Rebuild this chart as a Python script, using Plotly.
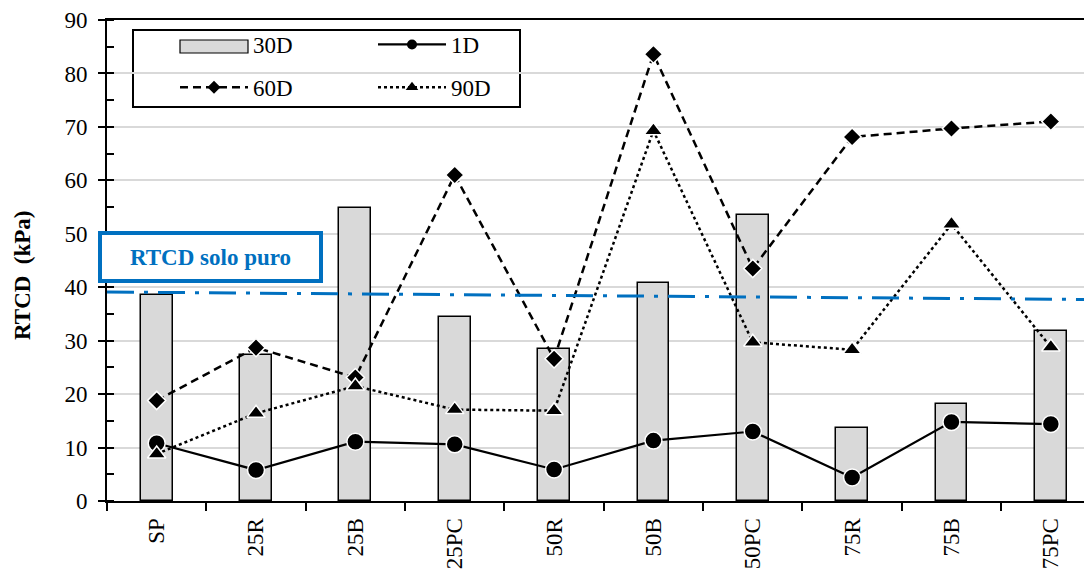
import plotly.graph_objects as go

cats = ["SP", "25R", "25B", "25PC", "50R", "50B", "50PC", "75R", "75B", "75PC"]
d30 = [38.5, 27.4, 54.9, 34.5, 28.5, 40.7, 53.5, 13.6, 18.2, 31.8]
d1 = [10.8, 5.8, 11.1, 10.6, 5.9, 11.3, 13.0, 4.4, 14.8, 14.4]
d60 = [18.8, 28.7, 23.1, 61.0, 26.6, 83.6, 43.5, 68.1, 69.7, 71.0]
d90 = [8.8, 16.4, 21.5, 17.1, 16.9, 69.3, 29.7, 28.3, 51.8, 28.8]
rtcd_line = [39.1, 37.7]   # reference line (solo puro), left -> right
y_ticks = [0, 10, 20, 30, 40, 50, 60, 70, 80, 90]

FONT = "Liberation Serif, Times New Roman, serif"
BLUE = "#0070C0"
OFF = 8                     # browser body margin
W, H = 1092 - OFF, 570 - OFF
L, T = 107 - OFF, 20 - OFF
B = H - (501 - OFF)
R = 0
pw = W - L - R
ph = H - T - B

def px(x):                  # page pixel -> paper
    return (x - OFF - L) / pw

def py(y):
    return (H - B - (y - OFF)) / ph

styles = {
    "1D": dict(line=dict(color="black", width=2.2),
               msym="circle", msize=17, lsize=10),
    "60D": dict(line=dict(color="black", width=2.5, dash="8px,5px"),
                msym="diamond", msize=14, lsize=10),
    "90D": dict(line=dict(color="black", width=2.5, dash="dot"),
                msym="triangle-up", msize=16, lsize=11),
}

fig = go.Figure()

fig.add_trace(go.Bar(
    x=cats, y=d30, name="30D", width=0.32,
    marker=dict(color="#d9d9d9", line=dict(color="black", width=1.5)),
    showlegend=False,
))
for name, vals in [("1D", d1), ("60D", d60), ("90D", d90)]:
    s = styles[name]
    fig.add_trace(go.Scatter(
        x=cats, y=vals, name=name, mode="lines+markers", line=s["line"],
        marker=dict(symbol=s["msym"], size=s["msize"], color="black",
                    line=dict(color="white", width=1.5)),
        showlegend=False,
    ))

# legend-only entries (smaller symbols as in the reference)
legend_items = [("30D", "legend", "g1"), ("60D", "legend", "g2"),
                ("1D", "legend2", "g1"), ("90D", "legend2", "g2")]
for name, lg, grp in legend_items:
    if name == "30D":
        fig.add_trace(go.Scatter(x=[None], y=[None], name=name, mode="lines",
                                 line=dict(color="rgba(0,0,0,0)", width=1),
                                 legend=lg, legendgroup=grp))
    else:
        s = styles[name]
        fig.add_trace(go.Scatter(x=[None], y=[None], name=name, mode="lines+markers",
                                 line=s["line"],
                                 marker=dict(symbol=s["msym"], size=s["lsize"], color="black"),
                                 legend=lg, legendgroup=grp))

# reference line (dash-dot blue) spanning the full plot width
fig.add_shape(type="line", xref="paper", yref="y", x0=0, x1=1,
              y0=rtcd_line[0], y1=rtcd_line[1],
              line=dict(color=BLUE, width=3, dash="27px,10px,4px,10px"))

# legend border
fig.add_shape(type="rect", xref="paper", yref="paper",
              x0=px(133), x1=px(520), y0=py(107), y1=py(30),
              line=dict(color="black", width=2), fillcolor="white", layer="below")
# bar legend symbol
fig.add_shape(type="rect", xref="paper", yref="paper",
              x0=px(180), x1=px(248), y0=py(53), y1=py(40),
              line=dict(color="black", width=1.2), fillcolor="#d9d9d9")

fig.add_annotation(
    text="<b>RTCD solo puro</b>", xref="paper", yref="paper",
    x=px(210.5), y=py(257), xanchor="center", yanchor="middle",
    showarrow=False, font=dict(family=FONT, size=23, color=BLUE),
    bgcolor="white", bordercolor=BLUE, borderwidth=4, borderpad=0,
    width=217, height=44,
)
fig.add_annotation(
    text="<b>RTCD  (kPa)</b>", xref="paper", yref="paper",
    x=px(22), y=py(275), xanchor="center", yanchor="middle",
    textangle=-90, showarrow=False, font=dict(family=FONT, size=23, color="black"),
)

legend_common = dict(
    orientation="v", bgcolor="rgba(0,0,0,0)", borderwidth=0,
    font=dict(family=FONT, size=23, color="black"),
    itemwidth=68, tracegroupgap=10, xanchor="left", yanchor="top",
    traceorder="grouped",
)

fig.update_layout(
    width=W, height=H,
    margin=dict(l=L, r=R, t=T, b=B),
    plot_bgcolor="white", paper_bgcolor="white",
    font=dict(family=FONT, size=23, color="black"),
    bargap=0,
    legend=dict(x=px(175), y=py(23), **legend_common),
    legend2=dict(x=px(373), y=py(23), **legend_common),
    xaxis=dict(
        type="category", range=[-0.5, -0.5 + (1092 - 107) / 99.35],
        showline=True, linecolor="black", linewidth=2, mirror=True,
        ticks="outside", tickson="boundaries", ticklen=8, tickwidth=1.5, tickcolor="black",
        tickangle=-90, tickfont=dict(family=FONT, size=23), ticklabelstandoff=6,
        showgrid=False,
    ),
    yaxis=dict(
        range=[0, 90], tickvals=y_ticks,
        showline=True, linecolor="black", linewidth=2,
        ticks="outside", ticklen=7, tickwidth=1.5, tickcolor="black",
        tickfont=dict(family=FONT, size=23), ticklabelstandoff=6,
        showgrid=True, gridcolor="#d9d9d9", gridwidth=1.5,
        zeroline=False,
        minor=dict(dtick=5, ticks="inside", ticklen=7, tickwidth=1.5, tickcolor="black", showgrid=False),
    ),
)

fig.write_html("out.html")
